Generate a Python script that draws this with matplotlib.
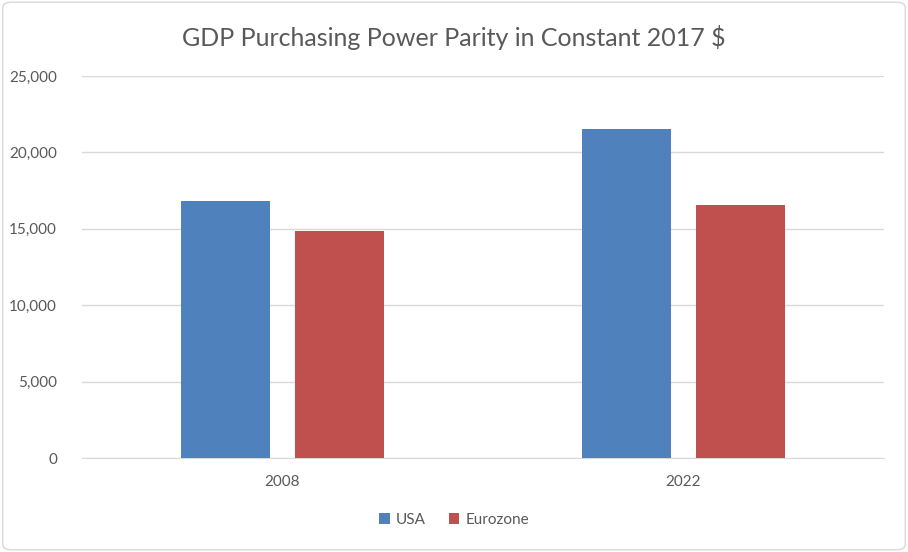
import numpy as np
import matplotlib.pyplot as plt
from matplotlib.patches import FancyBboxPatch

plt.rcParams['font.family'] = ['Lato', 'DejaVu Sans']

years = ['2008', '2022']
usa = [16800, 21520]
eurozone = [14840, 16540]
yticks = [0, 5000, 10000, 15000, 20000, 25000]

blue = '#4f81bd'
red = '#c0504d'
grey = '#595959'

fig = plt.figure(figsize=(9.08, 5.52), dpi=100)
ax = fig.add_axes([82/908, 94/552, 802/908, 382/552])

x = np.arange(len(years))
w = 0.224
ax.bar(x - 0.142, usa, w, color=blue, label='USA', zorder=3)
ax.bar(x + 0.142, eurozone, w, color=red, label='Eurozone', zorder=3)

ax.set_xlim(-0.5, 1.5)
ax.set_ylim(0, 25000)
ax.set_yticks(yticks)
ax.set_yticklabels(['{:,}'.format(v) for v in yticks])
ax.set_xticks(x)
ax.set_xticklabels(years)
ax.grid(axis='y', color='#d9d9d9', linewidth=1, zorder=0)
for s in ['top', 'right', 'left']:
    ax.spines[s].set_visible(False)
ax.spines['bottom'].set_color('#d9d9d9')
ax.tick_params(axis='both', length=0, colors=grey, labelsize=11)
ax.tick_params(axis='y', pad=18)
ax.tick_params(axis='x', pad=12)

fig.text(0.5, 1 - 38/552, 'GDP Purchasing Power Parity in Constant 2017 $',
         ha='center', va='center', fontsize=18, color=grey)

fig.legend(loc='center', bbox_to_anchor=(0.5, 1 - 520/552), ncol=2, frameon=False,
           fontsize=11, labelcolor=grey, handlelength=0.7, handleheight=0.7,
           handletextpad=0.4, columnspacing=1.5)

fig.patches.append(FancyBboxPatch((0.003, 0.004), 0.994, 0.992,
                                  boxstyle='round,pad=0,rounding_size=0.01',
                                  transform=fig.transFigure, fill=False,
                                  edgecolor='#d9d9d9', linewidth=1))

fig.savefig('out.png', dpi=100)
